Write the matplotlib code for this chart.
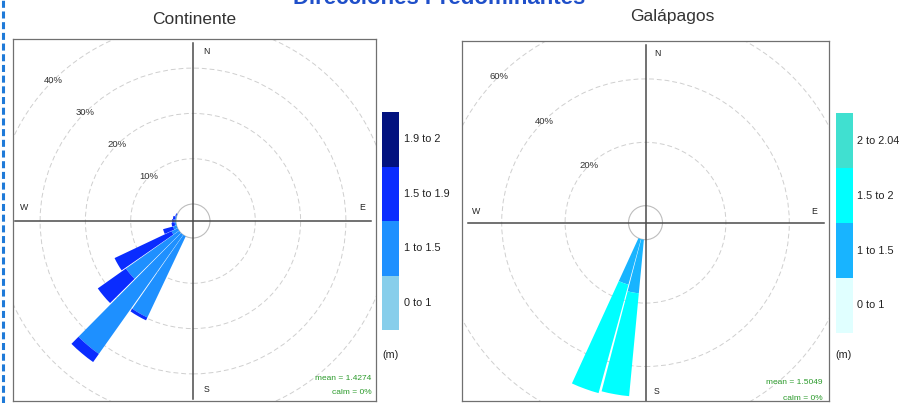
import matplotlib
matplotlib.use("Agg")
import matplotlib.pyplot as plt
from matplotlib.patches import Wedge, Circle
from matplotlib.lines import Line2D
import numpy as np

plt.rcParams['font.family'] = ['Liberation Sans', 'DejaVu Sans']

# ---------------- data ----------------
title = "Direcciones Predominantes"

cont_title = "Continente"
cont_dirs = [210, 220, 230, 240, 250, 260, 270, 280, 290]
cont_bins = ["0 to 1", "1 to 1.5", "1.5 to 1.9", "1.9 to 2"]
cont_0_1 = [0, 0, 0, 0, 0, 0, 0, 0, 0]
cont_1_15 = [19.8, 32.2, 14.4, 1.5, 0.8, 0.3, 0.3, 0.2, 0.1]
cont_15_19 = [0.7, 2.2, 7.6, 13.9, 2.3, 0.7, 0.6, 0.5, 0.2]
cont_19_2 = [0, 0, 0, 0, 0, 0, 0, 0, 0]
cont_colors = ["#87CEEB", "#1E90FF", "#0A2CFF", "#02127F"]
cont_rings = [10, 20, 30, 40]
cont_mean = "mean = 1.4274"
cont_calm = "calm = 0%"

gal_title = "Galápagos"
gal_dirs = [190, 200]
gal_bins = ["0 to 1", "1 to 1.5", "1.5 to 2", "2 to 2.04"]
gal_0_1 = [0, 0]
gal_1_15 = [17.0, 14.9]
gal_15_2 = [32.6, 35.5]
gal_2_204 = [0, 0]
gal_colors = ["#E0FFFF", "#18B4FF", "#00FFFF", "#40E0D0"]
gal_rings = [20, 40, 60]
gal_mean = "mean = 1.5049"
gal_calm = "calm = 0%"

unit_label = "(m)"

# ---------------- layout ----------------
W, H, DPI = 911, 403, 100
fig = plt.figure(figsize=(W / DPI, H / DPI), dpi=DPI)
fig.patch.set_facecolor("white")


def frect(x0, y0, x1, y1):
    return [x0 / W, 1 - y1 / H, (x1 - x0) / W, (y1 - y0) / H]


def draw_rose(box, center, scale, offset_px, dirs, stacks, colors, rings,
              width_deg, mean_txt, calm_txt, txt_x, txt_y1, txt_y2, lab_off):
    x0, y0, x1, y1 = box
    cx, cy = center
    ax = fig.add_axes(frect(x0, y0, x1, y1))
    ax.set_xlim((x0 - cx) / scale, (x1 - cx) / scale)
    ax.set_ylim((cy - y1) / scale, (cy - y0) / scale)
    ax.set_xticks([])
    ax.set_yticks([])
    for s in ax.spines.values():
        s.set_color("#707070")
        s.set_linewidth(0.9)
    off = offset_px / scale
    # rings
    for r in rings:
        ax.add_patch(Circle((0, 0), off + r, fill=False, ec="#cfcfcf",
                            lw=0.7, ls=(0, (5, 3))))
        a = np.deg2rad(315)
        ax.text((off + r) * np.sin(a), (off + r) * np.cos(a), f"{r}%",
                fontsize=6.8, color="#333333", ha="center", va="center")
    ax.add_patch(Circle((0, 0), off, fill=False, ec="#bdbdbd", lw=0.8))
    # bars
    for i, d in enumerate(dirs):
        base = off
        for k, seg in enumerate(stacks):
            v = seg[i]
            if v > 0:
                ax.add_patch(Wedge((0, 0), base + v, 90 - d - width_deg / 2,
                                   90 - d + width_deg / 2, width=v,
                                   fc=colors[k], ec="none"))
            base += v
    # axis lines
    L = 178 / scale
    ax.plot([0, 0], [-L, L], color="#4a4a4a", lw=1.1)
    ax.plot([-L, L], [0, 0], color="#4a4a4a", lw=1.1)
    # compass letters
    R = 169 / scale
    o = lab_off / scale
    kw = dict(fontsize=6.3, color="#222222", ha="center", va="center")
    ax.text(o, R, "N", **kw)
    ax.text(o, -R, "S", **kw)
    ax.text(-R, o, "W", **kw)
    ax.text(R, o, "E", **kw)
    # stats
    fig.text(txt_x / W, 1 - txt_y1 / H, mean_txt, color="#2a9a2a",
             fontsize=6, ha="right", va="center")
    fig.text(txt_x / W, 1 - txt_y2 / H, calm_txt, color="#2a9a2a",
             fontsize=6, ha="right", va="center")
    return ax


def draw_key(box, colors, labels, lab_x, unit_xy):
    x0, y0, x1, y1 = box
    ax = fig.add_axes(frect(x0, y0, x1, y1))
    n = len(colors)
    ax.bar([0] * n, [1] * n, bottom=list(range(n)), width=1,
           color=colors, edgecolor="none")
    ax.set_xlim(-0.5, 0.5)
    ax.set_ylim(0, n)
    ax.axis("off")
    for i, lab in enumerate(labels):
        yc = y1 - (i + 0.5) * (y1 - y0) / n
        fig.text(lab_x / W, 1 - yc / H, lab, fontsize=7.8, color="#222222",
                 ha="left", va="center")
    fig.text(unit_xy[0] / W, 1 - unit_xy[1] / H, unit_label, fontsize=7.8,
             color="#222222", ha="left", va="center")


draw_rose((13.3, 39.3, 375.7, 401), (193, 221), 4.53, 17,
          cont_dirs, [cont_0_1, cont_1_15, cont_15_19, cont_19_2],
          cont_colors, cont_rings, 9.4, cont_mean, cont_calm,
          371.5, 379, 393, 13.5)
draw_key((382, 112, 399, 330), cont_colors, cont_bins, 404, (382, 355))

draw_rose((462, 40.7, 829, 401), (645.5, 222.7), 3.17, 17,
          gal_dirs, [gal_0_1, gal_1_15, gal_15_2, gal_2_204],
          gal_colors, gal_rings, 9.2, gal_mean, gal_calm,
          822.5, 383, 398, 11.5)
draw_key((836, 113, 853, 333), gal_colors, gal_bins, 857, (835, 355))

# panel titles
fig.text(194 / W, 1 - 20 / H, cont_title, fontsize=12.5, color="#333333",
         ha="center", va="center")
fig.text(672 / W, 1 - 16.5 / H, gal_title, fontsize=12.5, color="#333333",
         ha="center", va="center")

# main title (partially cut at top)
fig.text(439 / W, 1 - 3.8 / H, title, fontsize=16, fontweight="bold",
         color="#1f4fc9", ha="center", va="baseline")

# dashed border on the left
fig.add_artist(Line2D([2.5 / W, 2.5 / W], [0, 1], transform=fig.transFigure,
                      color="#1f7ad8", lw=2.2, ls=(0, (2.3, 1.2))))

fig.savefig("out.png", dpi=DPI)
